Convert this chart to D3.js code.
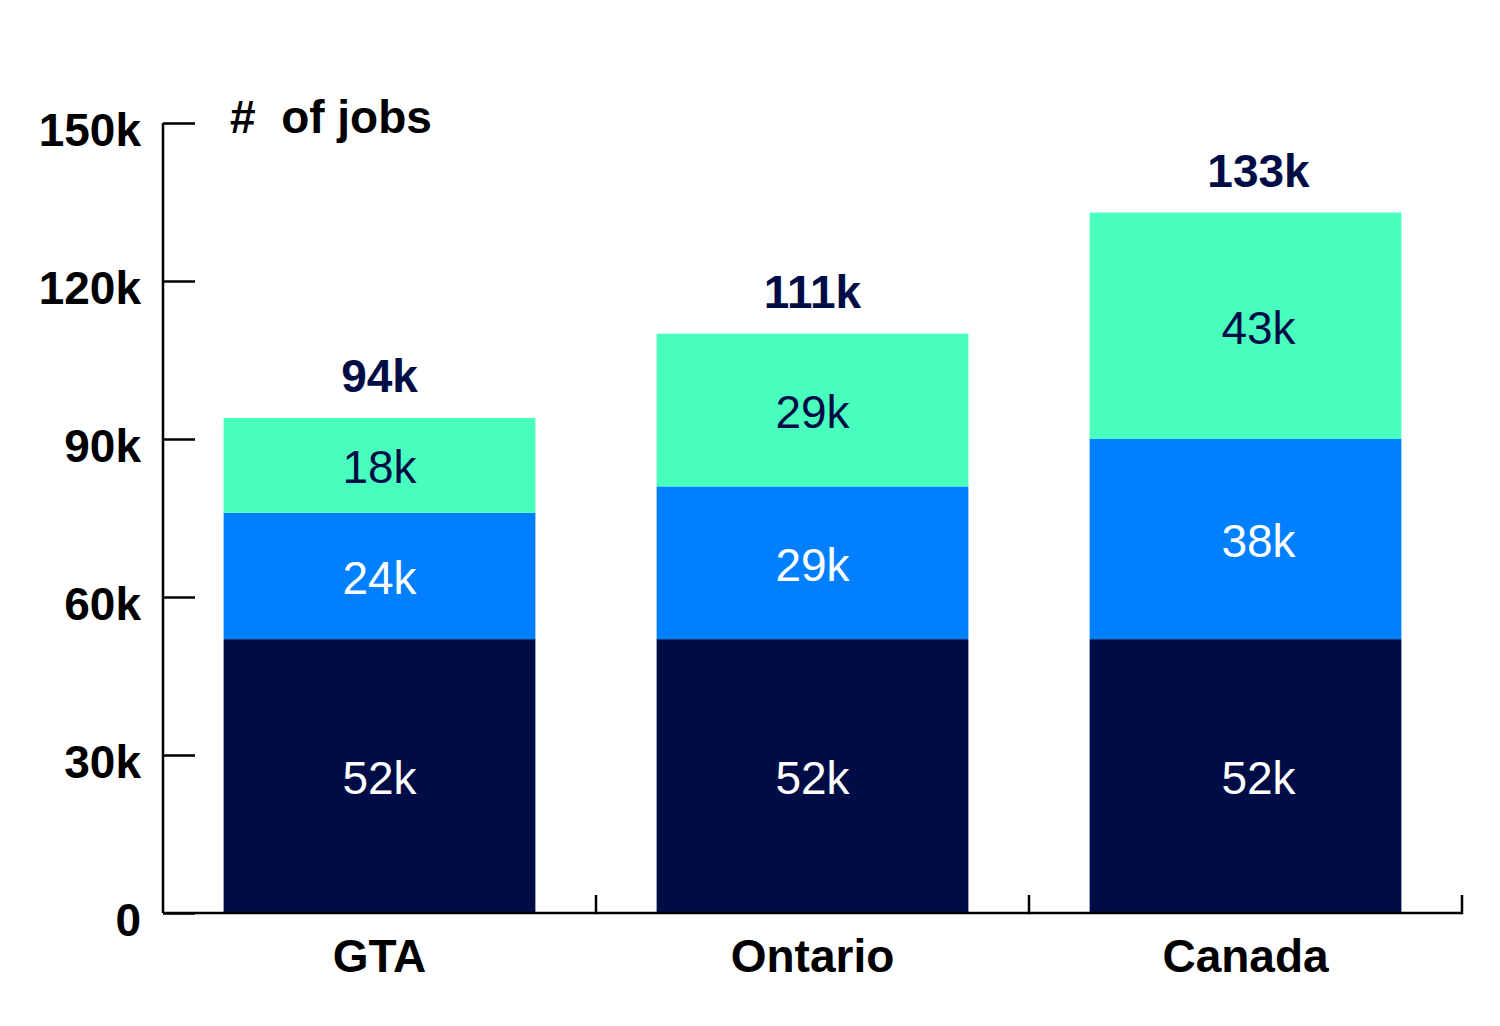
<!DOCTYPE html>
<html><head><meta charset="utf-8">
<script src="https://cdn.jsdelivr.net/npm/d3@7"></script>
<style>html,body{margin:0;padding:0;background:#fff;}svg{display:block;}</style>
</head><body>
<svg id="chart" width="1500" height="1026"></svg>
<script>
const categories = ["GTA", "Ontario", "Canada"];
const seriesNames = ["base", "middle", "top"];
const baseValues = [52, 52, 52];
const middleValues = [24, 29, 38];
const topValues = [18, 29, 43];
const totalLabels = ["94k", "111k", "133k"];
const yTicks = [0, 30, 60, 90, 120, 150];
const yTickLabels = ["0", "30k", "60k", "90k", "120k", "150k"];
const colors = ["#000C46", "#0080FF", "#48FFBE"];
const labelColors = ["#ffffff", "#ffffff", "#000C46"];

const svg = d3.select("#chart");
const font = "'Liberation Sans', Arial, sans-serif";
const FS = 46;
const x0 = 163, x1 = 1462, yBottom = 913, yTop = 123;
// the last column's value labels sit slightly right of the bar centre in the original
const labelShift = c => (c === "Canada" ? 13 : 0);

const x = d3.scaleBand().domain(categories).range([x0, x1]).paddingInner(0.28).paddingOuter(0.14);
const y = d3.scaleLinear().domain([0, 150]).range([yBottom, yTop]);

const rows = categories.map((c, i) => ({cat: c, base: baseValues[i], middle: middleValues[i], top: topValues[i]}));
const stack = d3.stack().keys(seriesNames)(rows);

// bars
stack.forEach((layer, li) => {
  const g = svg.append("g");
  g.selectAll("rect").data(layer).join("rect")
    .attr("x", d => x(d.data.cat))
    .attr("width", x.bandwidth())
    .attr("y", d => y(d[1]))
    .attr("height", d => y(d[0]) - y(d[1]))
    .attr("fill", colors[li]);
  g.selectAll("text").data(layer).join("text")
    .attr("x", d => x(d.data.cat) + x.bandwidth() / 2 + labelShift(d.data.cat))
    .attr("y", d => (y(d[0]) + y(d[1])) / 2 + 18)
    .attr("text-anchor", "middle")
    .attr("font-family", font)
    .attr("font-size", FS)
    .attr("fill", labelColors[li])
    .text(d => Math.round(d[1] - d[0]) + "k");
});

// totals
const last = stack[stack.length - 1];
svg.append("g").selectAll("text").data(last).join("text")
  .attr("x", d => x(d.data.cat) + x.bandwidth() / 2 + labelShift(d.data.cat))
  .attr("y", d => y(d[1]) - 26)
  .attr("text-anchor", "middle")
  .attr("font-family", font)
  .attr("font-size", FS)
  .attr("font-weight", "bold")
  .attr("fill", "#000C46")
  .text((d, i) => totalLabels[i]);

// y axis
const yAxis = d3.axisLeft(y).tickValues(yTicks).tickSize(-32).tickFormat((d, i) => yTickLabels[i]).tickSizeOuter(0);
const ya = svg.append("g").attr("transform", `translate(${x0},0)`).call(yAxis);
ya.select(".domain").attr("stroke", "#000").attr("stroke-width", 2.5).attr("d", `M0,${yTop}V${yBottom}`);
ya.selectAll(".tick line").attr("stroke", "#000").attr("stroke-width", 2.5);
ya.selectAll(".tick text")
  .attr("x", -22).attr("dy", null).attr("y", 22)
  .attr("font-family", font).attr("font-size", FS).attr("font-weight", "bold").attr("fill", "#000");

// x axis
const step = x.step();
const boundaries = categories.map(c => x(c) + x.bandwidth() + step * x.paddingOuter());
const xa = svg.append("g");
xa.append("line").attr("x1", x0).attr("x2", x1).attr("y1", yBottom).attr("y2", yBottom)
  .attr("stroke", "#000").attr("stroke-width", 2.5);
xa.selectAll("line.t").data(boundaries).join("line").attr("class", "t")
  .attr("x1", d => d).attr("x2", d => d).attr("y1", yBottom + 1.25).attr("y2", yBottom - 18)
  .attr("stroke", "#000").attr("stroke-width", 2.5);
xa.selectAll("text").data(categories).join("text")
  .attr("x", d => x(d) + x.bandwidth() / 2)
  .attr("y", 972)
  .attr("text-anchor", "middle")
  .attr("font-family", font).attr("font-size", FS).attr("font-weight", "bold").attr("fill", "#000")
  .text(d => d);

// axis title
svg.append("text").attr("x", 230).attr("y", 133)
  .attr("font-family", font).attr("font-size", FS).attr("font-weight", "bold").attr("fill", "#000")
  .style("white-space", "pre")
  .text("#  of jobs");
</script>
</body></html>
